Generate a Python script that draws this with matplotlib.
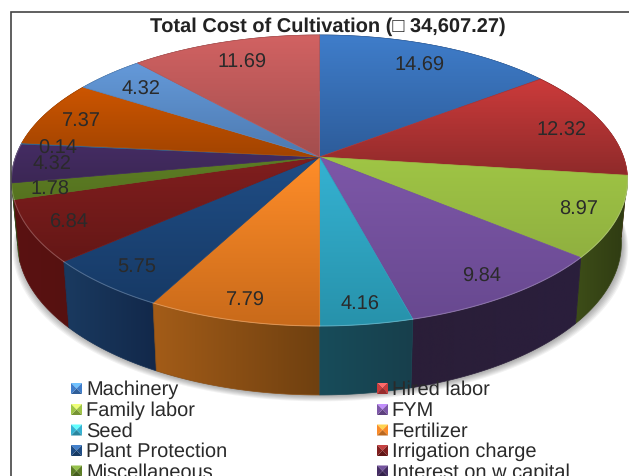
import numpy as np
import matplotlib
matplotlib.use("Agg")
import matplotlib.pyplot as plt
from matplotlib.patches import Polygon
from matplotlib.colors import to_rgb

plt.rcParams['font.family'] = ['Liberation Sans', 'DejaVu Sans']
plt.rcParams['text.hinting'] = 'none'
plt.rcParams['text.hinting_factor'] = 1

TITLE = "Total Cost of Cultivation (\u25a1 34,607.27)"
values = [14.69, 12.32, 8.97, 9.84, 4.16, 7.79, 5.75, 6.84, 1.78, 4.32, 0.14, 7.37, 4.32, 11.69]
legend_left = ["Machinery", "Family labor", "Seed", "Plant Protection", "Miscellaneous"]
legend_right = ["Hired labor", "FYM", "Fertilizer", "Irrigation charge", "Interest on w capital"]

top_colors = [("#3f7dca", "#2d5c9a"), ("#cc3b3b", "#8f2a2a"), ("#9fc545", "#90b040"),
              ("#7d57a8", "#684990"), ("#35b2d2", "#2792ab"), ("#ff8d29", "#c96a1a"),
              ("#1f4d85", "#173a66"), ("#801e1e", "#641716"), ("#5c7d25", "#56731f"),
              ("#442c63", "#3c2755"), ("#33658f", "#33658f"), ("#cc5500", "#a24400"),
              ("#6499d9", "#4d7ab0"), ("#d16262", "#a34e4e")]
side_colors = [("#22385c", "#22385c"), ("#5c1a1a", "#5c1a1a"), ("#2e3a12", "#3d4d18"),
               ("#2a1e3c", "#2a1e38"), ("#173f4c", "#184c5a"), ("#6f4010", "#a35c18"),
               ("#12284a", "#1a3a60"), ("#561110", "#5a1212"), ("#3a4d15", "#3a4d15"),
               ("#2a1c40", "#2a1c40"), ("#222233", "#222233"), ("#703000", "#703000"),
               ("#34506f", "#34506f"), ("#6c3333", "#6c3333")]
legend_colors = ["#3f7dca", "#cc3b3b", "#9fc545", "#7d57a8", "#35b2d2", "#f98a28",
                 "#1f4d85", "#801e1e", "#5c7d25", "#442c63"]
# text centres of the value labels, in image pixels
label_xy = [(419, 64), (561, 129), (579, 208), (482, 275), (360, 303), (245, 299), (137, 265),
            (69, 221), (50, 188), (52, 163), (58, 147), (81, 120), (141, 88), (242, 61)]

W, H = 629, 476
fig = plt.figure(figsize=(W / 100, H / 100), dpi=100)
ax = fig.add_axes([0, 0, 1, 1])
ax.set_axis_off()

# perspective view of the pie
CX, CY = 319.5, 157.0
AX, CC, K = 304.0, 141.7, 0.1615


def rim(theta):
    d = 1 + K * np.cos(theta)
    return CX + AX * np.sin(theta) / d, CY - CC * np.cos(theta) / d


def lower(x, y):
    return CX + (x - CX) * 0.98, y + 66 + (y - 260) * 0.045


def gradient(poly, c0, c1, vertical=True, z=1):
    xs, ys = poly[:, 0], poly[:, 1]
    x0, x1, y0, y1 = xs.min(), xs.max(), ys.min(), ys.max()
    t = np.linspace(0, 1, 64)
    a, b = np.array(to_rgb(c0)), np.array(to_rgb(c1))
    col = a[None, :] * (1 - t[:, None]) + b[None, :] * t[:, None]
    img = col[:, None, :] if vertical else col[None, :, :]
    im = ax.imshow(img, extent=(x0, x1 + 1e-3, y1 + 1e-3, y0), aspect='auto',
                   interpolation='bilinear', zorder=z)
    mean = tuple((a + b) / 2)
    patch = Polygon(poly, closed=True, facecolor='none', edgecolor='none', transform=ax.transData)
    ax.add_patch(patch)
    im.set_clip_path(patch)
    ax.add_patch(Polygon(poly, closed=True, facecolor='none', edgecolor=mean, lw=0.5, zorder=z))


total = sum(values)
edges = np.concatenate([[0], np.cumsum(values)]) / total * 2 * np.pi

# soft shadow
th = np.linspace(0, 2 * np.pi, 400)
rx, ry = rim(th)
lx, ly = lower(rx, ry)
for grow in np.linspace(6, 0, 7):
    ax.add_patch(Polygon(np.column_stack([CX + (lx - CX) * (1 + grow / 310) + 1, ly + grow * 0.9 + 1]),
                         closed=True, facecolor='black', edgecolor='none', alpha=0.05, zorder=0.5))

# side walls, back to front
order = sorted(range(len(values)), key=lambda i: rim((edges[i] + edges[i + 1]) / 2)[1])
for i in order:
    t = np.linspace(edges[i], edges[i + 1], max(4, int(values[i] * 6)))
    x, y = rim(t)
    bx, by = lower(x, y)
    poly = np.column_stack([np.r_[x, bx[::-1]], np.r_[y, by[::-1]]])
    gradient(poly, side_colors[i][1], side_colors[i][0], vertical=False, z=1)

# top faces
for i in range(len(values)):
    t = np.linspace(edges[i], edges[i + 1], max(4, int(values[i] * 6)))
    x, y = rim(t)
    poly = np.column_stack([np.r_[CX, x], np.r_[CY, y]])
    gradient(poly, top_colors[i][0], top_colors[i][1], z=2)
    if np.cos((edges[i] + edges[i + 1]) / 2) < 0:
        ax.plot(x, y, color='white', alpha=0.22, lw=0.8, zorder=2.5)

for v, (x, y) in zip(values, label_xy):
    ax.text(x, y + 1.5, f"{v:.2f}", ha='center', va='center', fontsize=14.5, color='#2a2a2a', zorder=5)

# frame
ax.plot([10.5, 10.5, W], [H, 12, 12], color='#444444', lw=1.2, zorder=6, solid_joinstyle='miter')

ax.text(327.5, 26.5, TITLE, ha='center', va='center', fontsize=14.1, fontweight='bold',
        color='#222222', zorder=6)


def swatch(x, y, c, s=11):
    base = np.array(to_rgb(c))
    hi = tuple(np.minimum(base * 1.35 + 0.1, 1))
    lo = tuple(base * 0.75)
    p = [(x, y), (x + s, y), (x + s, y + s), (x, y + s)]
    m = (x + s / 2, y + s / 2)
    ax.add_patch(Polygon([p[0], p[1], m], facecolor=hi, edgecolor='none', zorder=6))
    ax.add_patch(Polygon([p[1], p[2], m], facecolor=c, edgecolor='none', zorder=6))
    ax.add_patch(Polygon([p[2], p[3], m], facecolor=lo, edgecolor='none', zorder=6))
    ax.add_patch(Polygon([p[3], p[0], m], facecolor=c, edgecolor='none', zorder=6))


rows = [389, 410, 430.5, 451, 471.5]
for r, (a, b) in enumerate(zip(legend_left, legend_right)):
    swatch(71, rows[r] - 6, legend_colors[2 * r])
    ax.text(86.5, rows[r] + 1, a, ha='left', va='center', fontsize=14.3, color='#2a2a2a', zorder=6)
    swatch(377, rows[r] - 6, legend_colors[2 * r + 1])
    ax.text(391.5, rows[r] + 1, b, ha='left', va='center', fontsize=14.3, color='#2a2a2a', zorder=6)

ax.set_xlim(0, W)
ax.set_ylim(H, 0)
fig.savefig("out.png", dpi=100)
